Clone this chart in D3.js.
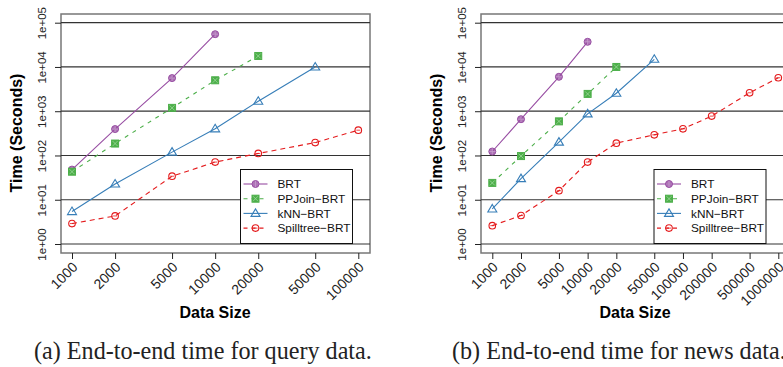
<!DOCTYPE html>
<html>
<head>
<meta charset="UTF-8">
<script src="https://d3js.org/d3.v7.min.js"></script>
<style>
  body { margin: 0; background: #fff; }
  svg { display: block; }
</style>
</head>
<body>
<svg id="chart" width="783" height="367"></svg>
<script>
// data
const seriesNames = ["BRT", "PPJoin\u2212BRT", "kNN\u2212BRT", "Spilltree\u2212BRT"];
const yTicks = [1, 10, 100, 1000, 10000, 100000];

const sizesA = [1000, 2000, 5000, 10000, 20000, 50000, 100000];
const brtA = [48, 395, 5600, 55000];
const ppjoinA = [43, 186, 1190, 5000, 17700];
const knnA = [5.4, 22.6, 119, 400, 1680, 10000];
const spillA = [2.9, 4.3, 34, 71, 111, 196, 373];

const sizesB = [1000, 2000, 5000, 10000, 20000, 50000, 100000, 200000, 500000, 1000000];
const brtB = [123, 660, 6000, 37000];
const ppjoinB = [24, 97, 590, 2460, 10000];
const knnB = [6.2, 30, 200, 870, 2550, 14900];
const spillB = [2.6, 4.4, 16, 71, 190, 293, 400, 775, 2610, 5700];

const colors = ["#984EA3", "#4DAF4A", "#377EB8", "#E41A1C"];
const dashes = [null, "4,5", null, "5,4"];
const sans = "Liberation Sans, Arial, sans-serif";

const svg = d3.select("#chart");
const fmtY = d => "1e+" + String(Math.round(Math.log10(d))).padStart(2, "0");

function symbol(g, i, x, y) {
    const c = colors[i];
    if (i === 0) {
        g.append("circle").attr("cx", x).attr("cy", y).attr("r", 3.5)
            .attr("fill", c).attr("fill-opacity", 0.8).attr("stroke", c);
        g.append("path").attr("d", `M${x-3},${y}H${x+3}M${x},${y-3}V${y+3}`)
            .attr("stroke", "#c9a3d0").attr("stroke-width", 0.7);
    } else if (i === 1) {
        g.append("rect").attr("x", x - 3.5).attr("y", y - 3.5).attr("width", 7).attr("height", 7)
            .attr("fill", c).attr("stroke", c);
        g.append("path").attr("d", `M${x-2.5},${y-2.5}L${x+2.5},${y+2.5}M${x-2.5},${y+2.5}L${x+2.5},${y-2.5}`)
            .attr("stroke", "#a8dca6").attr("stroke-width", 0.7);
    } else if (i === 2) {
        g.append("path").attr("d", `M${x},${y-4.5}L${x+4.5},${y+3}L${x-4.5},${y+3}Z`)
            .attr("fill", "none").attr("stroke", c).attr("stroke-width", 1.1);
    } else {
        g.append("circle").attr("cx", x).attr("cy", y).attr("r", 3.3)
            .attr("fill", "none").attr("stroke", c).attr("stroke-width", 1.1);
        g.append("path").attr("d", `M${x-2},${y}H${x+2}`)
            .attr("stroke", c).attr("stroke-width", 0.8);
    }
}

function panel(o) {
    const x = d3.scaleLog().domain([o.sizes[0], o.sizes[o.sizes.length - 1]]).range([o.x0, o.x1]);
    const y = d3.scaleLog().domain([1, 100000]).range([244, 22.7]);
    const g = svg.append("g");

    // frame
    g.append("rect").attr("x", o.left).attr("y", 14).attr("width", o.right - o.left).attr("height", 239)
        .attr("fill", "none").attr("stroke", "#777").attr("stroke-width", 1.5);

    // horizontal reference lines
    g.selectAll(".grid").data(yTicks).join("line")
        .attr("x1", o.left).attr("x2", o.right)
        .attr("y1", d => y(d)).attr("y2", d => y(d))
        .attr("stroke", "#333").attr("stroke-width", 1.2);

    // y axis
    const ya = g.append("g").attr("transform", `translate(${o.left},0)`)
        .call(d3.axisLeft(y).tickValues(yTicks).tickFormat(fmtY).tickSize(6));
    ya.select(".domain").remove();
    ya.selectAll("line").attr("stroke", "#222");
    ya.selectAll("text")
        .attr("font-family", sans).attr("font-size", 11.5).attr("fill", "#222")
        .attr("transform", "rotate(-90)").attr("text-anchor", "middle")
        .attr("x", 0).attr("y", -15).attr("dy", "0");

    // x axis
    const xa = g.append("g").attr("transform", "translate(0,253)")
        .call(d3.axisBottom(x).tickValues(o.sizes).tickFormat(d3.format("d")).tickSize(6));
    xa.select(".domain").remove();
    xa.selectAll("line").attr("stroke", "#222");
    xa.selectAll("text")
        .attr("font-family", sans).attr("font-size", 14).attr("fill", "#222")
        .attr("text-anchor", "end").attr("y", 0).attr("dy", 0)
        .attr("transform", "translate(6,15) rotate(-45)");

    // titles
    g.append("text").attr("x", o.titleX).attr("y", 318).attr("text-anchor", "middle")
        .attr("font-family", sans).attr("font-weight", "bold")
        .attr("font-size", 16).text("Data Size");
    g.append("text").attr("transform", `translate(${o.left - 39},133) rotate(-90)`)
        .attr("text-anchor", "middle")
        .attr("font-family", sans).attr("font-weight", "bold")
        .attr("font-size", 16).text("Time (Seconds)");

    // series
    const line = d3.line().x(d => x(d[0])).y(d => y(d[1]));
    o.series.forEach((vals, i) => {
        const pts = vals.map((v, k) => [o.sizes[k], v]);
        g.append("path").datum(pts).attr("d", line)
            .attr("fill", "none").attr("stroke", colors[i]).attr("stroke-width", 1.1)
            .attr("stroke-dasharray", dashes[i]);
        pts.forEach(p => symbol(g, i, x(p[0]), y(p[1])));
    });

    // legend
    const lg = g.append("g");
    lg.append("rect").attr("x", o.legX).attr("y", 169.5).attr("width", 112).attr("height", 74)
        .attr("fill", "#fff").attr("stroke", "#111").attr("stroke-width", 1);
    seriesNames.forEach((n, i) => {
        const ly = 184 + i * 14.7;
        lg.append("line").attr("x1", o.legX + 3).attr("x2", o.legX + 27).attr("y1", ly).attr("y2", ly)
            .attr("stroke", colors[i]).attr("stroke-width", 1.1).attr("stroke-dasharray", dashes[i] ? "4,4" : null);
        symbol(lg, i, o.legX + 15, ly);
        lg.append("text").attr("x", o.legX + 37).attr("y", ly + 4.2)
            .attr("font-family", sans).attr("font-size", 11.8)
            .attr("fill", "#111").text(n);
    });
}

panel({
    sizes: sizesA, series: [brtA, ppjoinA, knnA, spillA],
    left: 61, right: 370, x0: 72, x1: 358.3, titleX: 215, legX: 240.5
});
panel({
    sizes: sizesB, series: [brtB, ppjoinB, knnB, spillB],
    left: 481, right: 790, x0: 492.3, x1: 778.3, titleX: 635, legX: 654
});

// captions: size so that "(b) ... news data" spans about 328px
const captions = [
    { x: 34, text: "(a) End-to-end time for query data." },
    { x: 452, text: "(b) End-to-end time for news data." }
];
const cap = svg.selectAll(".cap").data(captions).join("text")
    .attr("class", "cap")
    .attr("x", d => d.x).attr("y", 359)
    .attr("font-family", "Liberation Serif, 'DejaVu Serif', serif").attr("font-size", 20)
    .attr("fill", "#222").text(d => d.text);
const probe = svg.append("text").attr("font-family", "Liberation Serif, serif").attr("font-size", 20)
    .text("(b) End-to-end time for news data");
const fs = 20 * 328 / probe.node().getComputedTextLength();
probe.remove();
cap.attr("font-size", fs);
</script>
</body>
</html>
